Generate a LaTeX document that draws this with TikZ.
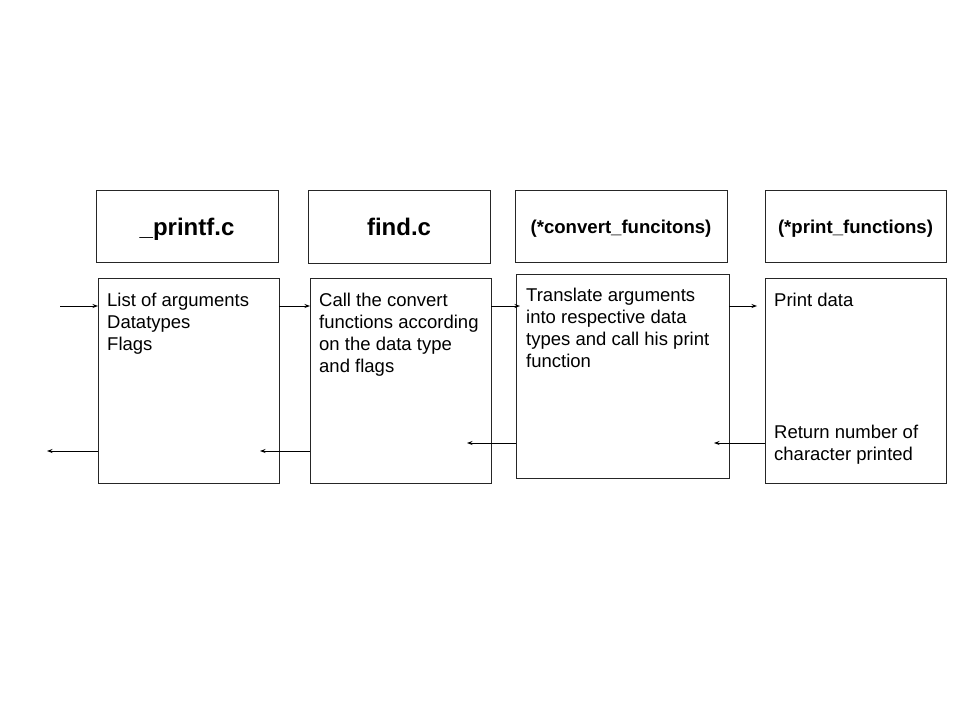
\documentclass[tikz,border=0pt]{standalone}
\usepackage{fontspec}
\setmainfont{Liberation Sans}
\usetikzlibrary{arrows.meta,calc}
\begin{document}
\begin{tikzpicture}[x=1pt,y=-1pt,
  box/.style={draw=black!85,line width=0.9pt,inner sep=0pt,outer sep=0pt,rectangle},
  bigtitle/.style={inner sep=0pt,font=\fontsize{24}{28}\selectfont\bfseries},
  smalltitle/.style={inner sep=0pt,font=\fontsize{18.6}{22}\selectfont\bfseries},
  bodytext/.style={anchor=north west,inner sep=0pt,align=left,font=\fontsize{18.5}{22}\selectfont},
  arr/.style={-{Stealth[length=5.5pt,width=4pt]},line width=0.8pt,draw=black}]
\useasboundingbox[fill=white] (0,0) rectangle (960,720);
% title boxes
\node[box,minimum width=182pt,minimum height=72pt] (t1) at (187,226) {};
\node[box,minimum width=182pt,minimum height=73pt] (t2) at (399,226.5) {};
\node[box,minimum width=212pt,minimum height=72pt] (t3) at (621,226) {};
\node[box,minimum width=181pt,minimum height=72pt] (t4) at (855.5,226) {};
\node[bigtitle,anchor=base] (l1) at ($(t1.center)+(0,9)$) {\_printf.c};
\node[bigtitle,anchor=base] (l2) at ($(t2.center)+(0,9)$) {find.c};
\node[smalltitle,anchor=base] (l3) at ($(t3.center)+(0,7)$) {(*convert\_funcitons)};
\node[smalltitle,anchor=base] (l4) at ($(t4.center)+(0,7)$) {(*print\_functions)};
% body boxes
\node[box,minimum width=181pt,minimum height=205pt] (b1) at (188.5,380.5) {};
\node[box,minimum width=181pt,minimum height=205pt] (b2) at (400.5,380.5) {};
\node[box,minimum width=213pt,minimum height=204pt] (b3) at (622.5,376) {};
\node[box,minimum width=181pt,minimum height=205pt] (b4) at (855.5,380.5) {};
% body texts
\node[bodytext] (x1) at (107,292.5) {List of arguments\\Datatypes\\Flags};
\node[bodytext] (x2) at (319,292.5) {Call the convert\\functions according\\on the data type\\and flags};
\node[bodytext] (x3) at (526,288) {Translate arguments\\into respective data\\types and call his print\\function};
\node[bodytext] (x4) at (774,292.5) {Print data};
\node[bodytext] (x5) at (774,424.5) {Return number of\\character printed};
% arrows forward
\coordinate (in) at (60,306);
\coordinate (out) at (47,451);
\draw[arr] (in) -- (b1.west |- in);
\draw[arr] (b1.east |- in) -- (b2.west |- in);
\draw[arr] (b2.east |- in) -- ($(b3.west |- in)+(4,0)$);
\draw[arr] (b3.east |- in) -- ($(b4.west |- in)+(-8,0)$);
% arrows back
\coordinate (r1) at (0,443);
\draw[arr] (b4.west |- r1) -- ($(b3.east |- r1)+(-15,0)$);
\draw[arr] (b3.west |- r1) -- ($(b2.east |- r1)+(-24,0)$);
\draw[arr] (b2.west |- out) -- ($(b1.east |- out)+(-19,0)$);
\draw[arr] (b1.west |- out) -- (out);
\end{tikzpicture}
\end{document}
